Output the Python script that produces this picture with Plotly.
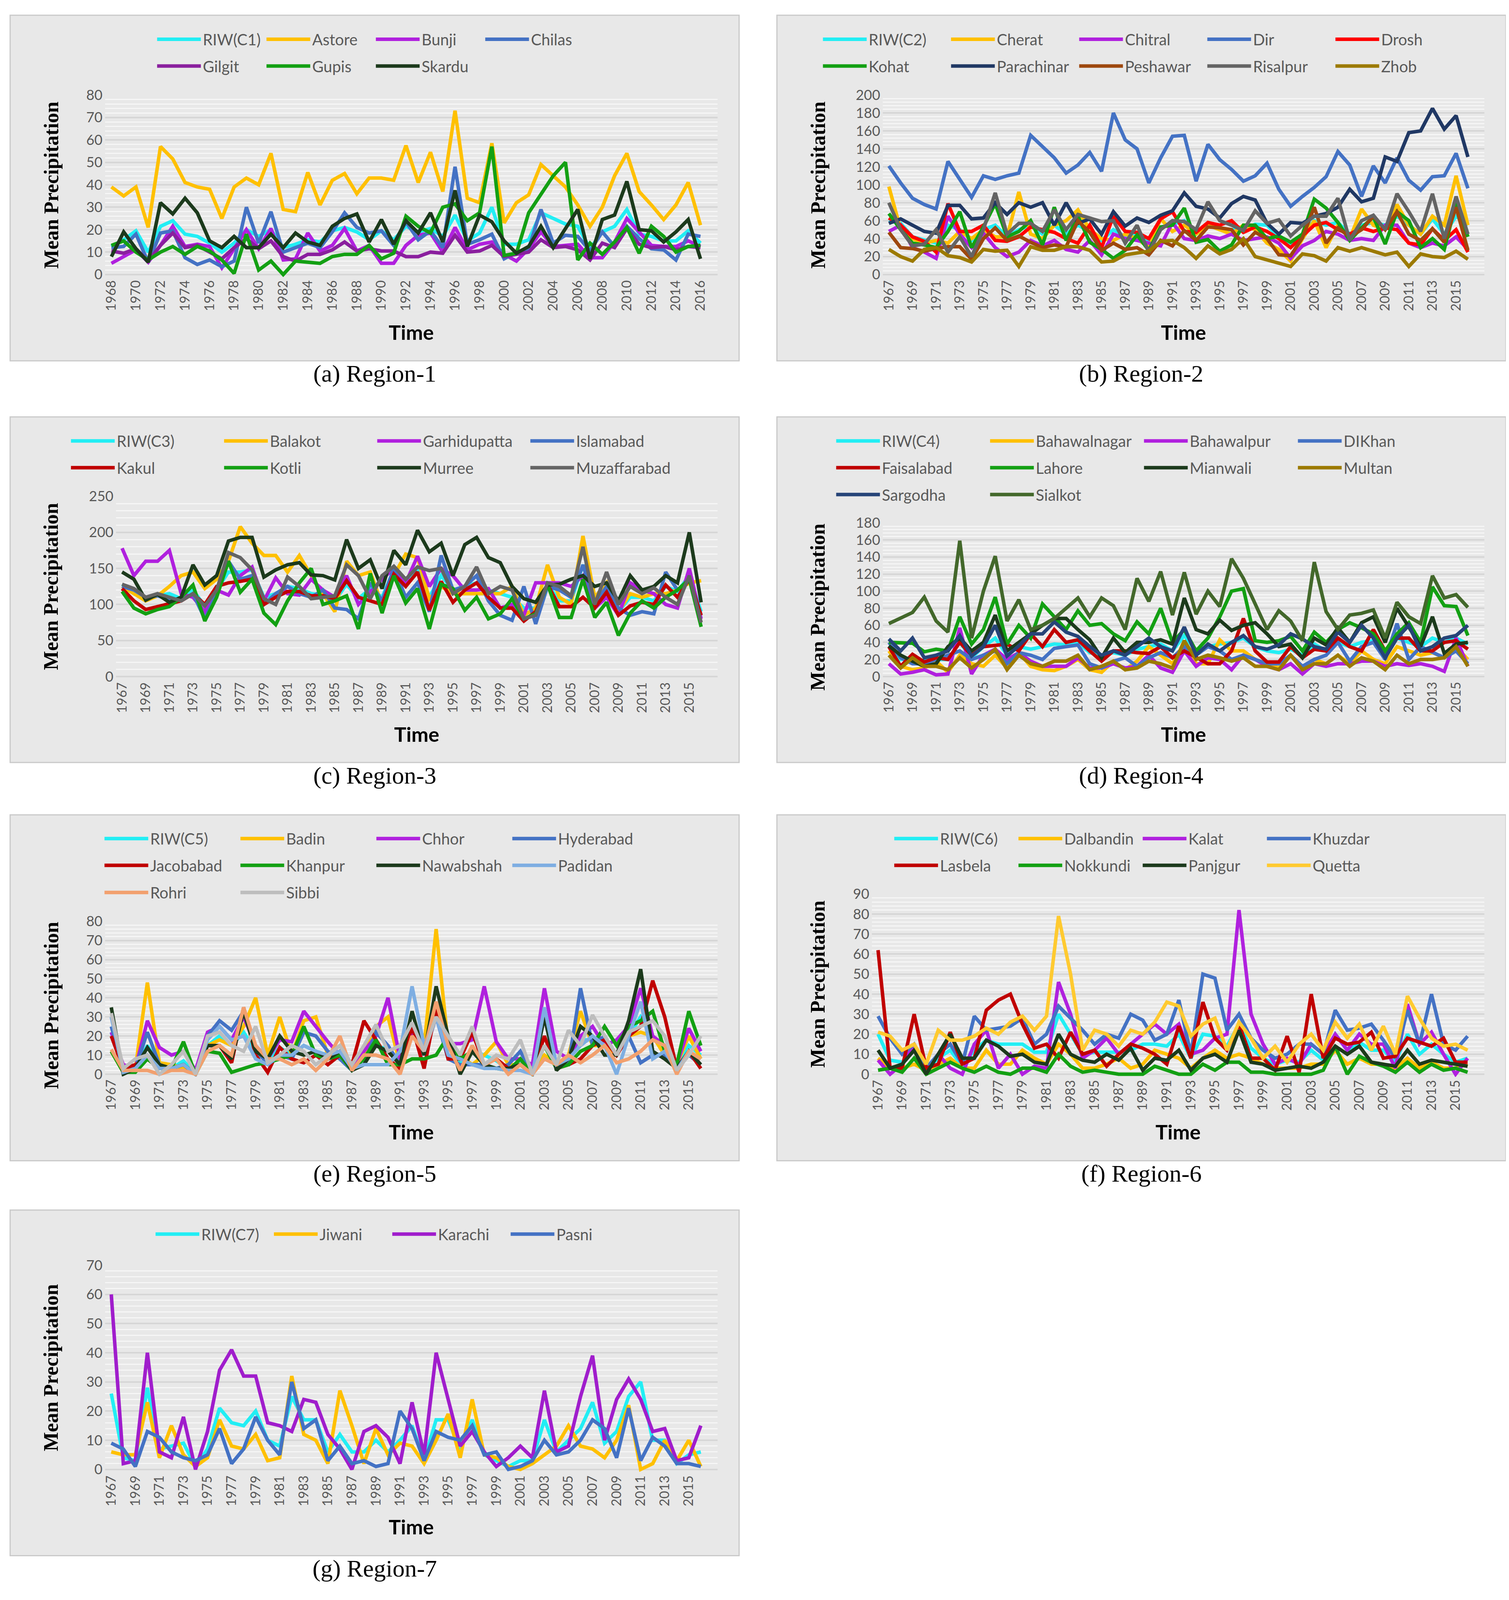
import plotly.graph_objects as go

# The photographed page only shows about 4096 px of height, so the panels keep
# their horizontal positions and are squeezed vertically to fit.
W = 3863
H_REF = 5101
VS = 0.796
H = 4070

YEARS_R1 = list(range(1968, 2017))
YEARS = list(range(1967, 2017))

# ---------------- Region-1 (1968-2016) ----------------
r1_names = ["RIW(C1)", "Astore", "Bunji", "Chilas", "Gilgit", "Gupis", "Skardu"]
r1_riw = [12.5, 15.5, 19.5, 10, 21.5, 24, 18, 17, 14, 10,
          14, 20, 17, 20, 12, 13.5, 15.5, 14.5, 19.5, 21,
          19, 15.5, 19.5, 15.5, 21.5, 19, 20.5, 17, 26.5, 15,
          18.5, 30, 13.5, 13.5, 15.5, 27.5, 25, 22.5, 21.5, 11.5,
          19, 21.5, 29, 18, 17, 15, 15, 19.5, 14]
r1_astore = [39, 35, 39, 21, 57, 51.5, 41, 39, 38, 25,
             39, 43, 40, 54, 29, 28, 45.5, 31, 42, 45,
             36, 43, 43, 42, 57.5, 41, 54.5, 37, 73, 34,
             32, 58.5, 23, 32, 35.5, 49, 44, 39, 31, 21.5,
             30, 44, 54, 37, 31, 24.5, 31, 41, 22]
r1_bunji = [5, 8, 11, 5.5, 13, 21.5, 12.5, 13.5, 12.5, 3,
            11.5, 20, 11.5, 20.5, 6.5, 7, 18.5, 10.5, 13, 20.5,
            10.5, 13, 5, 5, 13, 17.5, 18.5, 10, 21, 11,
            13.5, 14.5, 9, 6, 11.5, 19, 12.5, 13, 13.5, 7.5,
            7.5, 14.5, 25, 19, 13, 12.5, 12.5, 15, 12.5]
r1_chilas = [12, 12.5, 18, 5.5, 18.5, 19.5, 7.5, 4.5, 6.5, 3.5,
             6, 30, 14, 28, 10, 12, 14, 12, 19, 27.5,
             21, 18.5, 19.5, 13, 23.5, 15.5, 19.5, 12, 48, 13.5,
             15.5, 18, 7, 10, 11.5, 29, 14, 17.5, 17, 10.5,
             19, 12.5, 21.5, 16, 11.5, 11, 6.5, 18, 17]
r1_gilgit = [10.5, 9.5, 11.5, 6, 13, 18.5, 12, 13, 10, 7,
             12, 16, 11.5, 15, 8, 6, 9, 9, 11, 14.5,
             10.5, 11.5, 10.5, 10.5, 8, 8, 10, 9.5, 17.5, 10,
             10.5, 13, 8, 9, 10, 15.5, 12, 12.5, 11, 6.5,
             14, 12, 20.5, 13.5, 12, 12.5, 11, 12.5, 12]
r1_gupis = [13, 15, 10, 6.5, 10, 12.5, 9, 12.5, 10.5, 6.5,
            0.5, 18, 2, 6, 0, 6, 5.5, 5, 8, 9,
            9, 13, 7, 9.5, 26, 21.5, 18.5, 30, 31.5, 24,
            27.5, 57, 8.5, 9.5, 27.5, 36, 44, 50, 6.5, 14,
            9, 14.5, 21, 9.5, 21.5, 17, 10, 12.5, 13]
r1_skardu = [8, 19, 11.5, 5.5, 32, 27, 34, 27.5, 15, 12,
             17, 12, 12, 18, 12, 18.5, 14.5, 13, 21.5, 25,
             27, 14.5, 24.5, 13.5, 24, 18.5, 27.5, 14.5, 37.5, 12.5,
             26.5, 23.5, 15, 9.5, 12.5, 21.5, 12, 20.5, 29, 7,
             24.5, 26.5, 41.5, 20, 19.5, 14.5, 19, 24.5, 7]

# ---------------- Region-2 (1967-2016) ----------------
r2_names = ["RIW(C2)", "Cherat", "Chitral", "Dir", "Drosh",
            "Kohat", "Parachinar", "Peshawar", "Risalpur", "Zhob"]
r2_riw = [60, 57, 42, 38, 35, 55, 50, 38, 50, 55,
          42, 50, 55, 45, 55, 45, 55, 48, 38, 50,
          42, 45, 38, 52, 56, 60, 45, 55, 50, 50,
          50, 56, 55, 42, 35, 45, 60, 55, 58, 45,
          55, 58, 55, 65, 55, 45, 62, 45, 65, 55]
r2_cherat = [98, 50, 40, 35, 38, 35, 48, 40, 50, 42,
             42, 92, 45, 40, 55, 60, 72, 50, 40, 38,
             45, 40, 30, 62, 48, 55, 45, 55, 50, 45,
             55, 50, 35, 28, 15, 40, 60, 30, 55, 40,
             73, 55, 50, 78, 55, 45, 65, 55, 110, 55]
r2_chitral = [48, 55, 30, 25, 18, 65, 45, 30, 46, 30,
              20, 25, 38, 32, 38, 28, 25, 38, 22, 45,
              40, 38, 35, 32, 58, 40, 38, 43, 40, 45,
              38, 40, 42, 35, 18, 32, 38, 48, 45, 38,
              40, 38, 55, 55, 35, 30, 35, 32, 42, 28]
r2_dir = [121, 102, 85, 78, 73, 126, 106, 86, 110, 106,
          110, 113, 155, 143, 130, 113, 122, 136, 115, 180,
          150, 140, 102, 130, 154, 155, 104, 145, 128, 117,
          104, 110, 124, 95, 76, 87, 97, 109, 137, 122,
          87, 121, 102, 130, 105, 94, 109, 110, 135, 96]
r2_drosh = [63, 55, 42, 37, 25, 79, 48, 48, 55, 38,
            37, 42, 53, 50, 47, 40, 35, 55, 30, 65,
            48, 47, 40, 62, 70, 48, 47, 58, 55, 60,
            47, 53, 48, 40, 30, 43, 55, 58, 50, 45,
            52, 48, 52, 50, 35, 33, 51, 38, 50, 25]
r2_kohat = [68, 50, 35, 33, 30, 48, 70, 30, 53, 79,
            42, 48, 60, 33, 75, 38, 65, 36, 28, 18,
            27, 44, 27, 53, 55, 74, 36, 39, 26, 33,
            55, 55, 40, 43, 36, 45, 84, 74, 58, 38,
            52, 64, 34, 70, 60, 30, 40, 28, 80, 42]
r2_parachinar = [57, 62, 55, 48, 46, 77, 77, 62, 63, 80,
                 67, 80, 75, 80, 55, 80, 57, 62, 45, 70,
                 54, 63, 58, 66, 71, 91, 76, 73, 63, 79,
                 87, 83, 57, 45, 58, 57, 65, 68, 75, 95,
                 81, 85, 131, 126, 158, 160, 185, 162, 177, 131]
r2_peshawar = [47, 30, 29, 26, 29, 31, 31, 17, 40, 52,
               38, 43, 36, 30, 33, 31, 60, 47, 27, 35,
               28, 30, 22, 38, 32, 49, 38, 53, 52, 50,
               33, 47, 40, 22, 21, 41, 75, 35, 52, 42,
               50, 65, 50, 70, 45, 38, 51, 36, 75, 27]
r2_risalpur = [80, 50, 32, 34, 50, 25, 42, 20, 50, 91,
               45, 57, 57, 48, 72, 50, 67, 63, 59, 60,
               35, 55, 25, 50, 60, 59, 50, 81, 60, 55,
               49, 71, 57, 61, 43, 55, 65, 65, 85, 38,
               60, 66, 50, 90, 70, 48, 90, 40, 87, 45]
r2_zhob = [28, 20, 15, 28, 30, 21, 19, 14, 28, 26,
           27, 9, 31, 27, 27, 31, 31, 27, 14, 15,
           22, 24, 26, 37, 38, 30, 18, 32, 23, 28,
           40, 20, 16, 13, 9, 23, 21, 15, 30, 26,
           30, 26, 22, 25, 9, 23, 20, 19, 26, 17]

# ---------------- Region-3 ----------------
r3_names = ["RIW(C3)", "Balakot", "Garhidupatta", "Islamabad",
            "Kakul", "Kotli", "Murree", "Muzaffarabad"]
r3_riw = [128, 118, 108, 112, 115, 108, 120, 98, 120, 145,
          145, 148, 110, 115, 125, 122, 115, 113, 105, 128,
          108, 122, 110, 148, 130, 150, 110, 140, 120, 125,
          130, 120, 115, 110, 95, 95, 128, 105, 105, 155,
          105, 120, 90, 110, 110, 105, 125, 118, 140, 90]
r3_balakot = [125, 115, 105, 112, 125, 140, 145, 122, 135, 160,
              208, 185, 168, 168, 145, 168, 140, 115, 90, 160,
              140, 145, 100, 140, 170, 165, 108, 125, 115, 115,
              115, 115, 115, 125, 85, 95, 155, 110, 100, 195,
              110, 130, 90, 115, 110, 115, 115, 120, 130, 133]
r3_garhi = [178, 140, 160, 160, 175, 115, 110, 90, 120, 113,
            140, 152, 105, 137, 115, 113, 135, 120, 110, 140,
            100, 118, 135, 150, 130, 167, 125, 150, 140, 120,
            120, 122, 95, 100, 85, 130, 130, 130, 125, 140,
            95, 110, 85, 130, 120, 115, 100, 95, 150, 80]
r3_islamabad = [125, 120, 110, 112, 107, 105, 115, 80, 115, 160,
                135, 140, 100, 115, 125, 115, 110, 120, 95, 93,
                80, 130, 105, 150, 110, 130, 90, 168, 120, 125,
                140, 105, 85, 78, 125, 73, 125, 120, 110, 155,
                100, 125, 95, 85, 90, 87, 145, 120, 135, 85]
r3_kakul = [122, 105, 93, 97, 102, 105, 115, 100, 125, 130,
            132, 135, 100, 110, 118, 118, 112, 112, 108, 133,
            110, 105, 100, 142, 125, 145, 92, 132, 103, 120,
            130, 110, 95, 95, 77, 90, 128, 97, 97, 110,
            95, 117, 85, 98, 103, 100, 127, 110, 135, 85]
r3_kotli = [118, 95, 87, 93, 97, 110, 127, 77, 110, 160,
            117, 135, 88, 72, 105, 130, 150, 100, 105, 112,
            66, 143, 88, 140, 102, 122, 66, 128, 122, 92,
            110, 80, 87, 108, 80, 87, 128, 82, 82, 135,
            82, 103, 57, 88, 105, 95, 110, 120, 135, 69]
r3_murree = [145, 135, 106, 114, 103, 110, 155, 127, 140, 188,
             193, 193, 138, 148, 155, 158, 141, 140, 134, 190,
             150, 162, 122, 175, 155, 203, 173, 185, 140, 183,
             193, 165, 158, 125, 108, 103, 127, 128, 135, 140,
             125, 130, 105, 140, 120, 125, 140, 130, 200, 103]
r3_muzaffarabad = [128, 122, 110, 115, 110, 105, 115, 98, 120, 172,
                   165, 148, 108, 100, 138, 125, 108, 110, 112, 155,
                   140, 108, 140, 153, 135, 152, 147, 150, 115, 125,
                   152, 115, 125, 120, 80, 85, 130, 125, 112, 180,
                   100, 145, 100, 125, 115, 123, 110, 100, 140, 75]

# ---------------- Region-4 ----------------
r4_names = ["RIW(C4)", "Bahawalnagar", "Bahawalpur", "DIKhan", "Faisalabad",
            "Lahore", "Mianwali", "Multan", "Sargodha", "Sialkot"]
r4_riw = [35, 20, 22, 18, 20, 20, 40, 22, 35, 45,
          25, 35, 32, 35, 38, 37, 40, 28, 25, 28,
          25, 32, 35, 38, 30, 48, 30, 35, 38, 40,
          45, 35, 30, 28, 32, 25, 38, 30, 40, 35,
          40, 42, 28, 45, 40, 35, 45, 40, 45, 38]
r4_bahawalnagar = [30, 12, 8, 10, 18, 5, 25, 15, 12, 25,
                   10, 28, 12, 8, 7, 12, 20, 8, 5, 18,
                   8, 18, 35, 25, 15, 38, 15, 15, 43, 30,
                   30, 20, 15, 10, 25, 10, 20, 15, 25, 15,
                   30, 20, 15, 35, 30, 25, 28, 22, 35, 20]
r4_bahawalpur = [15, 3, 5, 8, 2, 3, 57, 3, 25, 32,
                 20, 28, 18, 12, 12, 12, 22, 10, 10, 15,
                 10, 12, 25, 10, 5, 30, 12, 22, 20, 8,
                 25, 20, 12, 8, 15, 3, 15, 12, 15, 15,
                 18, 18, 12, 15, 13, 15, 12, 6, 45, 12]
r4_dikhan = [40, 22, 15, 15, 20, 25, 30, 20, 25, 30,
             15, 28, 25, 20, 33, 35, 37, 15, 10, 18,
             22, 12, 22, 28, 22, 35, 25, 35, 30, 20,
             25, 20, 15, 15, 25, 12, 20, 25, 40, 18,
             35, 40, 20, 62, 20, 35, 28, 22, 30, 15]
r4_faisalabad = [35, 12, 26, 17, 22, 20, 40, 25, 35, 37,
                 38, 30, 50, 35, 55, 40, 43, 30, 18, 30,
                 30, 28, 27, 35, 22, 30, 22, 15, 15, 30,
                 68, 30, 17, 17, 35, 22, 32, 30, 45, 35,
                 30, 55, 30, 45, 45, 30, 30, 40, 42, 32]
r4_lahore = [40, 39, 39, 29, 32, 30, 70, 38, 55, 93,
             38, 60, 45, 85, 70, 55, 77, 60, 62, 50,
             42, 64, 50, 80, 40, 55, 30, 45, 70, 100,
             103, 42, 40, 42, 47, 30, 52, 40, 55, 63,
             57, 50, 30, 50, 63, 40, 105, 83, 82, 48]
r4_mianwali = [36, 25, 18, 12, 15, 35, 45, 30, 40, 72,
               30, 40, 50, 60, 68, 68, 55, 43, 22, 45,
               28, 40, 40, 43, 38, 92, 55, 50, 66, 54,
               60, 63, 50, 35, 38, 22, 45, 37, 57, 40,
               63, 70, 40, 80, 58, 35, 70, 27, 38, 40]
r4_multan = [25, 10, 22, 12, 12, 8, 22, 10, 20, 32,
             8, 25, 15, 12, 18, 18, 25, 8, 12, 18,
             8, 10, 18, 15, 10, 42, 20, 25, 22, 18,
             22, 12, 12, 8, 25, 8, 15, 15, 25, 12,
             22, 18, 8, 25, 15, 20, 20, 22, 35, 12]
r4_sargodha = [44, 30, 45, 22, 25, 30, 48, 24, 35, 60,
               24, 36, 50, 50, 64, 52, 47, 35, 25, 30,
               25, 35, 45, 35, 30, 58, 25, 38, 30, 40,
               48, 35, 32, 37, 50, 44, 35, 32, 52, 40,
               60, 45, 22, 45, 60, 30, 35, 45, 48, 60]
r4_sialkot = [62, 68, 75, 93, 65, 52, 159, 45, 100, 141,
              65, 90, 55, 60, 68, 80, 92, 70, 92, 83,
              55, 115, 88, 123, 72, 122, 73, 100, 82, 138,
              115, 85, 55, 77, 65, 42, 134, 76, 55, 72,
              74, 78, 45, 87, 70, 62, 118, 92, 96, 81]

# ---------------- Region-5 ----------------
r5_names = ["RIW(C5)", "Badin", "Chhor", "Hyderabad", "Jacobabad",
            "Khanpur", "Nawabshah", "Padidan", "Rohri", "Sibbi"]
r5_riw = [22, 2, 3, 15, 5, 3, 7, 0, 15, 20,
          15, 22, 12, 6, 14, 10, 15, 12, 10, 12,
          3, 12, 15, 13, 6, 25, 10, 33, 14, 6,
          12, 10, 7, 3, 6, 0, 20, 4, 8, 18,
          18, 15, 10, 20, 30, 20, 12, 3, 15, 10]
r5_badin = [12, 1, 3, 48, 6, 5, 3, 0, 15, 18,
            15, 25, 40, 10, 30, 10, 28, 30, 10, 15,
            5, 10, 25, 30, 5, 20, 15, 76, 15, 10,
            5, 10, 17, 5, 5, 3, 10, 5, 10, 33,
            15, 15, 10, 20, 22, 20, 10, 5, 20, 8]
r5_chhor = [22, 5, 3, 28, 14, 10, 12, 2, 22, 25,
            18, 30, 15, 8, 18, 17, 33, 25, 17, 10,
            5, 12, 20, 40, 8, 22, 12, 35, 16, 16,
            18, 46, 17, 8, 8, 5, 45, 12, 8, 20,
            25, 15, 18, 25, 45, 20, 15, 5, 24, 12]
r5_hyderabad = [25, 3, 3, 22, 5, 3, 5, 0, 20, 28,
                23, 33, 12, 6, 10, 8, 22, 20, 12, 8,
                2, 5, 22, 15, 5, 25, 10, 30, 8, 5,
                5, 5, 3, 5, 12, 0, 30, 5, 5, 45,
                15, 20, 10, 20, 6, 10, 10, 3, 10, 5]
r5_jacobabad = [20, 3, 5, 8, 3, 3, 5, 0, 15, 15,
                6, 35, 10, 1, 14, 8, 6, 10, 5, 10,
                5, 28, 18, 8, 3, 25, 3, 35, 8, 8,
                22, 5, 8, 3, 5, 0, 20, 3, 5, 8,
                15, 18, 10, 20, 25, 49, 30, 3, 12, 3]
r5_khanpur = [12, 1, 1, 8, 3, 3, 17, 0, 12, 11,
              1, 3, 5, 6, 8, 10, 25, 10, 8, 10,
              2, 8, 18, 5, 5, 8, 8, 10, 20, 8,
              12, 5, 3, 2, 8, 0, 15, 3, 5, 12,
              15, 25, 15, 25, 28, 33, 12, 5, 33, 15]
r5_nawabshah = [35, 0, 3, 14, 5, 3, 5, 0, 15, 15,
                8, 33, 12, 8, 20, 12, 10, 12, 8, 12,
                2, 5, 15, 12, 5, 33, 10, 46, 20, 0,
                12, 5, 3, 3, 5, 0, 30, 2, 8, 25,
                20, 10, 10, 28, 55, 12, 8, 3, 12, 5]
r5_padidan = [30, 1, 3, 10, 3, 3, 5, 0, 18, 25,
              18, 20, 8, 5, 10, 10, 15, 12, 10, 12,
              3, 5, 5, 5, 12, 46, 15, 30, 10, 8,
              5, 3, 3, 2, 2, 0, 35, 5, 8, 15,
              20, 15, 0, 20, 38, 8, 12, 2, 12, 8]
r5_rohri = [13, 2, 2, 2, 0, 2, 2, 0, 12, 15,
            10, 35, 15, 8, 8, 5, 8, 2, 8, 20,
            2, 10, 10, 8, 0, 20, 12, 38, 15, 2,
            15, 5, 8, 0, 5, 0, 8, 5, 10, 6,
            10, 15, 6, 8, 12, 18, 15, 0, 12, 8]
r5_sibbi = [32, 3, 8, 10, 0, 5, 12, 0, 20, 22,
            15, 12, 25, 6, 10, 15, 12, 5, 10, 15,
            5, 15, 26, 12, 15, 27, 12, 30, 20, 10,
            25, 5, 10, 8, 18, 0, 15, 5, 23, 15,
            31, 20, 10, 22, 25, 28, 20, 2, 10, 20]

# ---------------- Region-6 ----------------
r6_names = ["RIW(C6)", "Dalbandin", "Kalat", "Khuzdar",
            "Lasbela", "Nokkundi", "Panjgur", "Quetta"]
r6_riw = [20, 7, 6, 12, 2, 8, 12, 4, 12, 17,
          15, 15, 15, 11, 11, 30, 20, 10, 11, 11,
          11, 12, 15, 15, 14, 20, 8, 20, 19, 14,
          25, 13, 8, 5, 7, 6, 12, 7, 20, 12,
          16, 12, 12, 6, 20, 10, 15, 10, 6, 8]
r6_dalbandin = [8, 3, 3, 5, 2, 5, 8, 3, 3, 12,
                5, 5, 12, 8, 5, 15, 10, 3, 3, 5,
                8, 3, 5, 12, 10, 8, 3, 8, 12, 8,
                10, 8, 5, 3, 3, 3, 5, 5, 12, 5,
                8, 5, 5, 3, 8, 3, 6, 3, 3, 5]
r6_kalat = [7, 0, 5, 15, 2, 10, 3, 0, 15, 22,
            3, 10, 0, 4, 3, 46, 30, 8, 12, 18,
            10, 15, 20, 25, 20, 25, 10, 12, 18, 20,
            82, 30, 15, 5, 8, 5, 15, 10, 20, 12,
            20, 15, 15, 3, 35, 15, 21, 10, 0, 8]
r6_khuzdar = [29, 18, 10, 15, 3, 10, 15, 5, 29, 22,
              23, 24, 28, 15, 20, 34, 28, 22, 15, 20,
              18, 30, 27, 17, 20, 37, 10, 50, 48, 22,
              30, 18, 12, 8, 10, 15, 15, 10, 32, 22,
              23, 25, 17, 8, 32, 15, 40, 15, 12, 19]
r6_lasbela = [62, 3, 3, 30, 3, 5, 21, 5, 8, 32,
              37, 40, 25, 13, 15, 8, 21, 10, 12, 4,
              10, 15, 13, 10, 5, 24, 8, 36, 18, 12,
              25, 8, 8, 2, 19, 1, 40, 8, 18, 15,
              16, 21, 8, 9, 18, 16, 14, 18, 6, 6]
r6_nokkundi = [2, 3, 1, 8, 0, 3, 6, 3, 1, 4,
               1, 0, 3, 3, 1, 10, 4, 1, 2, 1,
               0, 0, 0, 4, 2, 0, 0, 5, 2, 6,
               6, 1, 1, 0, 0, 0, 0, 2, 14, 0,
               9, 6, 4, 1, 6, 1, 5, 2, 3, 1]
r6_panjgur = [12, 3, 5, 12, 0, 10, 20, 8, 8, 17,
              14, 9, 10, 6, 5, 20, 10, 7, 6, 10,
              7, 13, 2, 8, 7, 12, 2, 8, 10, 6,
              22, 6, 5, 2, 3, 4, 3, 6, 14, 10,
              14, 6, 5, 4, 12, 5, 7, 6, 5, 4]
r6_quetta = [21, 19, 12, 15, 5, 22, 17, 17, 19, 23,
             20, 26, 29, 22, 29, 79, 50, 12, 22, 20,
             14, 22, 20, 26, 36, 34, 19, 25, 28, 12,
             26, 18, 8, 14, 6, 15, 20, 12, 26, 18,
             25, 12, 24, 10, 39, 28, 18, 14, 15, 12]

# ---------------- Region-7 ----------------
r7_names = ["RIW(C7)", "Jiwani", "Karachi", "Pasni"]
r7_riw = [26, 4, 3, 28, 7, 8, 9, 1, 7, 21,
          16, 15, 20, 10, 8, 25, 17, 17, 6, 12,
          6, 6, 10, 6, 10, 15, 3, 17, 17, 7,
          17, 5, 3, 1, 3, 3, 17, 6, 10, 14,
          23, 9, 13, 25, 30, 10, 10, 2, 5, 6]
r7_jiwani = [6, 5, 5, 23, 4, 15, 5, 1, 4, 17,
             8, 7, 12, 3, 4, 32, 12, 10, 2, 27,
             15, 2, 14, 5, 9, 8, 2, 10, 19, 4,
             24, 5, 4, 1, 0, 2, 5, 8, 15, 8,
             7, 4, 10, 22, 0, 2, 10, 3, 10, 1]
r7_karachi = [60, 2, 3, 40, 6, 4, 18, 0, 13, 34,
              41, 32, 32, 16, 15, 13, 24, 23, 12, 7,
              0, 13, 15, 11, 2, 23, 5, 40, 24, 8,
              13, 6, 1, 4, 8, 4, 27, 6, 8, 25,
              39, 10, 24, 31, 24, 13, 14, 3, 4, 15]
r7_pasni = [9, 7, 1, 13, 11, 6, 4, 3, 5, 14,
            2, 7, 18, 10, 5, 30, 14, 17, 3, 8,
            2, 3, 1, 2, 20, 14, 3, 13, 11, 10,
            15, 5, 6, 0, 1, 3, 10, 5, 6, 10,
            17, 14, 4, 21, 3, 11, 8, 2, 2, 1]

# ---------------- styles ----------------
CYAN = "#22EEF4"
GOLD = "#FFC000"
MAGENTA = "#B020DE"
BLUE = "#4472C4"
PURPLE = "#8A1F9E"
GREEN = "#13A013"
DARK = "#1C3A1C"
RED = "#FF0000"
DKRED = "#C00000"
NAVY = "#203864"
BROWN = "#9E480E"
GRAY = "#646464"
OLIVE = "#9C7A00"
STEEL = "#264478"
MOSS = "#43682B"
SKY = "#7EAEE2"
SALMON = "#F2A06E"
SILVER = "#BDBDBD"
LEMON = "#FFCA30"
VIOLET = "#A01DCC"

SANS = "Lato, 'Open Sans', sans-serif"
SERIF = "'Liberation Serif', 'Times New Roman', serif"
TXT = "#595959"
PANEL_BG = "#E8E8E8"

# positions below are in reference pixels (3863 x 5101)
PANELS = [
    dict(cap="(a) Region-1", years=YEARS_R1, names=r1_names,
         values=[r1_riw, r1_astore, r1_bunji, r1_chilas, r1_gilgit, r1_gupis, r1_skardu],
         colors=[CYAN, GOLD, MAGENTA, BLUE, PURPLE, GREEN, DARK],
         ymax=80, dtick=10, minor=2, box=(10, 10, 1880, 1132), plot=(254, 269, 1825, 852),
         rows=(88, 175), per_row=4, lx=398, lstep=280, title_y=562),
    dict(cap="(b) Region-2", years=YEARS, names=r2_names,
         values=[r2_riw, r2_cherat, r2_chitral, r2_dir, r2_drosh, r2_kohat,
                 r2_parachinar, r2_peshawar, r2_risalpur, r2_zhob],
         colors=[CYAN, GOLD, MAGENTA, BLUE, RED, GREEN, NAVY, BROWN, GRAY, OLIVE],
         ymax=200, dtick=20, minor=4, box=(1977, 10, 3847, 1132), plot=(2249, 269, 3792, 852),
         rows=(88, 175), per_row=5, lx=2106, lstep=328, title_y=562),
    dict(cap="(c) Region-3", years=YEARS, names=r3_names,
         values=[r3_riw, r3_balakot, r3_garhi, r3_islamabad, r3_kakul, r3_kotli,
                 r3_murree, r3_muzaffarabad],
         colors=[CYAN, GOLD, MAGENTA, BLUE, DKRED, GREEN, DARK, GRAY],
         ymax=250, dtick=50, minor=10, box=(10, 1314, 1880, 2436), plot=(282, 1572, 1825, 2157),
         rows=(1392, 1479), per_row=4, lx=177, lstep=392, title_y=1865),
    dict(cap="(d) Region-4", years=YEARS, names=r4_names,
         values=[r4_riw, r4_bahawalnagar, r4_bahawalpur, r4_dikhan, r4_faisalabad,
                 r4_lahore, r4_mianwali, r4_multan, r4_sargodha, r4_sialkot],
         colors=[CYAN, GOLD, MAGENTA, BLUE, DKRED, GREEN, DARK, OLIVE, STEEL, MOSS],
         ymax=180, dtick=20, minor=4, box=(1977, 1314, 3847, 2436), plot=(2249, 1658, 3792, 2157),
         rows=(1392, 1479, 1566), per_row=4, lx=2140, lstep=394, title_y=1932),
    dict(cap="(e) Region-5", years=YEARS, names=r5_names,
         values=[r5_riw, r5_badin, r5_chhor, r5_hyderabad, r5_jacobabad, r5_khanpur,
                 r5_nawabshah, r5_padidan, r5_rohri, r5_sibbi],
         colors=[CYAN, GOLD, MAGENTA, BLUE, DKRED, GREEN, DARK, SKY, SALMON, SILVER],
         ymax=80, dtick=10, minor=2, box=(10, 2606, 1880, 3729), plot=(254, 2952, 1825, 3448),
         rows=(2683, 2770, 2858), per_row=4, lx=263, lstep=348, title_y=3225),
    dict(cap="(f) Region-6", years=YEARS, names=r6_names,
         values=[r6_riw, r6_dalbandin, r6_kalat, r6_khuzdar, r6_lasbela, r6_nokkundi,
                 r6_panjgur, r6_quetta],
         colors=[CYAN, GOLD, MAGENTA, BLUE, DKRED, GREEN, DARK, LEMON],
         ymax=90, dtick=10, minor=2, box=(1977, 2606, 3847, 3729), plot=(2221, 2863, 3792, 3448),
         rows=(2683, 2770), per_row=4, lx=2289, lstep=318, title_y=3156),
    dict(cap="(g) Region-7", years=YEARS, names=r7_names,
         values=[r7_riw, r7_jiwani, r7_karachi, r7_pasni],
         colors=[CYAN, GOLD, VIOLET, BLUE],
         ymax=70, dtick=10, minor=2, box=(10, 3889, 1880, 5011), plot=(254, 4068, 1825, 4731),
         rows=(3967,), per_row=4, lx=394, lstep=303, title_y=4401),
]

ITEM_W = 112   # legend line sample width


def fx(px):
    return px / W


def fy(py):
    # reference pixel row -> paper fraction of the squeezed page
    return 1 - py * VS / H


fig = go.Figure()
shapes, annotations = [], []
legend_layouts = {}
legend_count = 0

for i, p in enumerate(PANELS):
    n = i + 1
    xa, ya = ("x" if n == 1 else f"x{n}"), ("y" if n == 1 else f"y{n}")
    x0, y0, x1, y1 = p["box"]
    px0, py0, px1, py1 = p["plot"]

    shapes.append(dict(type="rect", xref="paper", yref="paper", layer="below",
                       x0=fx(x0), x1=fx(x1), y0=fy(y1), y1=fy(y0),
                       fillcolor=PANEL_BG, line=dict(color="#C9C9C9", width=3)))

    # one plotly legend per legend row of the panel
    row_ids = []
    for ry in p["rows"]:
        legend_count += 1
        lid = "legend" if legend_count == 1 else f"legend{legend_count}"
        row_ids.append(lid)
        legend_layouts[lid] = dict(
            orientation="h", x=fx(p["lx"] - 16), y=fy(ry), xanchor="left", yanchor="middle",
            bgcolor="rgba(0,0,0,0)", borderwidth=0, itemwidth=ITEM_W,
            entrywidth=p["lstep"] - ITEM_W - 15, entrywidthmode="pixels",
            font=dict(family=SANS, size=40, color=TXT), traceorder="normal",
            itemclick=False, itemdoubleclick=False)

    for k, (name, vals, col) in enumerate(zip(p["names"], p["values"], p["colors"])):
        fig.add_trace(go.Scatter(
            x=p["years"], y=vals, name=name, mode="lines",
            line=dict(color=col, width=9), xaxis=xa, yaxis=ya,
            legend=row_ids[k // p["per_row"]], hoverinfo="x+y+name"))

    years = p["years"]
    ypad = p["ymax"] * 0.015
    extra = (py1 - py0) * 0.015
    xaxis = dict(domain=[fx(px0), fx(px1)], range=[years[0] - 0.5, years[-1] + 1.4],
                 anchor=ya, tickmode="array", tickvals=years[::2],
                 ticktext=[str(v) for v in years[::2]], tickangle=-90,
                 tickfont=dict(family=SANS, size=34, color=TXT),
                 showgrid=False, zeroline=False, showline=False, ticks="")
    yaxis = dict(domain=[fy(py1 + extra), fy(py0)], range=[-ypad, p["ymax"]],
                 anchor=xa, tickmode="linear", tick0=0, dtick=p["dtick"],
                 tickfont=dict(family=SANS, size=36, color=TXT),
                 showgrid=True, gridcolor="#D6D6D6", gridwidth=4,
                 minor=dict(dtick=p["minor"], tick0=0, showgrid=True,
                            gridcolor="#F6F6F6", gridwidth=3),
                 zeroline=False, showline=False, ticks="", ticklabelstandoff=6)
    fig.update_layout({("xaxis" if n == 1 else f"xaxis{n}"): xaxis,
                       ("yaxis" if n == 1 else f"yaxis{n}"): yaxis})

    annotations.append(dict(text="<b>Mean Precipitation</b>", xref="paper", yref="paper",
                            x=fx(x0 + 105), y=fy(p["title_y"]), textangle=-90, showarrow=False,
                            xanchor="center", yanchor="middle",
                            font=dict(family=SERIF, size=52, color="#000000")))
    annotations.append(dict(text="<b>Time</b>", xref="paper", yref="paper",
                            x=fx((px0 + px1) / 2), y=fy(py1 + 186), showarrow=False,
                            xanchor="center", yanchor="middle",
                            font=dict(family=SANS, size=52, color="#000000")))
    annotations.append(dict(text=p["cap"], xref="paper", yref="paper",
                            x=fx((x0 + x1) / 2), y=fy(y1 + 42), showarrow=False,
                            xanchor="center", yanchor="middle",
                            font=dict(family=SERIF, size=62, color="#000000")))

fig.update_layout(
    width=W, height=H, margin=dict(l=0, r=0, t=0, b=0),
    paper_bgcolor="#FFFFFF", plot_bgcolor=PANEL_BG,
    shapes=shapes, annotations=annotations, showlegend=True,
    **legend_layouts)

fig.write_html("out.html")
